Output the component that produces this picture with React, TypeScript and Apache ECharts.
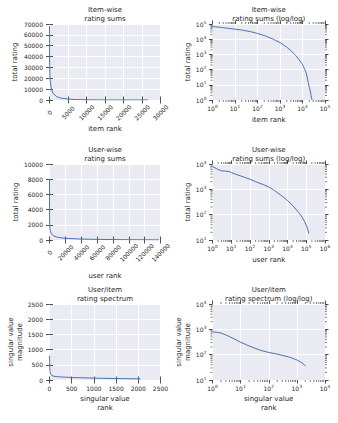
import React, { useEffect, useRef } from 'react';
import * as echarts from 'echarts';

// ---- data ----
const itemRank = [1, 2, 3, 5, 10, 20, 50, 100, 200, 500, 1000, 2000, 3000, 5000, 7000, 10000, 12000, 14000, 16000, 18000, 20000, 22000, 24000, 26700];
const itemSum = [68000, 61000, 57000, 52000, 46000, 40000, 31000, 24000, 17500, 10000, 6000, 3000, 1800, 850, 450, 215, 120, 70, 35, 14, 7, 4, 2, 1];

const userRank = [1, 2, 3, 5, 8, 10, 20, 50, 100, 200, 500, 1000, 2000, 5000, 10000, 20000, 40000, 60000, 80000, 100000, 120000, 138000];
const userSum = [8000, 6000, 5400, 5200, 5000, 4600, 3800, 3000, 2500, 2000, 1550, 1230, 900, 550, 360, 220, 120, 80, 55, 38, 26, 18];

const svRank = [1, 2, 3, 5, 10, 20, 50, 100, 200, 500, 1000, 1500, 2048];
const svValue = [800, 720, 600, 460, 310, 220, 150, 122, 105, 82, 62, 48, 36];

// ---- tick labels ----
const itemLinX = [0, 5000, 10000, 15000, 20000, 25000, 30000];
const itemLinY = [0, 10000, 20000, 30000, 40000, 50000, 60000, 70000];
const itemLogX = [1, 10, 100, 1000, 10000, 100000];
const itemLogY = [1, 10, 100, 1000, 10000, 100000];

const userLinX = [0, 20000, 40000, 60000, 80000, 100000, 120000, 140000];
const userLinY = [0, 2000, 4000, 6000, 8000, 10000];
const userLogX = [1, 10, 100, 1000, 10000, 100000, 1000000];
const userLogY = [10, 100, 1000, 10000];

const svLinX = [0, 500, 1000, 1500, 2000, 2500];
const svLinY = [0, 500, 1000, 1500, 2000, 2500];
const svLogX = [1, 10, 100, 1000, 10000];
const svLogY = [10, 100, 1000, 10000];

const minorMult = [2, 3, 4, 5, 6, 7, 8, 9];

const titles = [
  'Item-wise\nrating sums',
  'Item-wise\nrating sums (log/log)',
  'User-wise\nrating sums',
  'User-wise\nrating sums (log/log)',
  'User/item\nrating spectrum',
  'User/item\nrating spectrum (log/log)',
];

const BG = '#EAEAF2';
const LINE = '#4C72B0';
const TEXT = '#262626';
const FONT = 'DejaVu Sans';

const COLS = [
  { left: 49.5, width: 111 },
  { left: 212.5, width: 112.5 },
];
const ROW_TOPS = [24, 164, 304];
const H = 76;

const powLabel = (v: number) => '{b|10}{s|' + String(Math.round(Math.log10(v))) + '}';

const supRich = {
  b: { fontSize: 6, fontFamily: FONT, color: TEXT, lineHeight: 6, verticalAlign: 'bottom' },
  s: { fontSize: 4.3, fontFamily: FONT, color: TEXT, lineHeight: 5, padding: [0, 0, 3, 0.3], verticalAlign: 'bottom' },
};

function minorValues(decades: number[]) {
  const out: number[] = [];
  for (let i = 0; i < decades.length - 1; i++) {
    for (const m of minorMult) out.push(decades[i] * m);
  }
  return out;
}

type PanelCfg = {
  log: boolean;
  xTicks: number[];
  yTicks: number[];
  xs: number[];
  ys: number[];
  xName: string;
  yName: string;
  xNameGap: number;
  yNameGap: number;
  rotate: boolean;
};

const panels: PanelCfg[] = [
  { log: false, xTicks: itemLinX, yTicks: itemLinY, xs: itemRank, ys: itemSum, xName: 'item rank', yName: 'total rating', xNameGap: 23, yNameGap: 30, rotate: true },
  { log: true, xTicks: itemLogX, yTicks: itemLogY, xs: itemRank, ys: itemSum, xName: 'item rank', yName: 'total rating', xNameGap: 16, yNameGap: 19, rotate: false },
  { log: false, xTicks: userLinX, yTicks: userLinY, xs: userRank, ys: userSum, xName: 'user rank', yName: 'total rating', xNameGap: 32, yNameGap: 26.5, rotate: true },
  { log: true, xTicks: userLogX, yTicks: userLogY, xs: userRank, ys: userSum, xName: 'user rank', yName: 'total rating', xNameGap: 16, yNameGap: 18.5, rotate: false },
  { log: false, xTicks: svLinX, yTicks: svLinY, xs: svRank, ys: svValue, xName: 'singular value\nrank', yName: 'singular value\nmagnitude', xNameGap: 15, yNameGap: 25, rotate: false },
  { log: true, xTicks: svLogX, yTicks: svLogY, xs: svRank, ys: svValue, xName: 'singular value\nrank', yName: 'singular value\nmagnitude', xNameGap: 15, yNameGap: 18.5, rotate: false },
];

function buildOption() {
  const grid: any[] = [];
  const xAxis: any[] = [];
  const yAxis: any[] = [];
  const series: any[] = [];
  const graphic: any[] = [];

  const tickStyle = { show: true, length: 3.5, lineStyle: { color: TEXT, width: 0.8 } };
  const labelBase = { color: TEXT, fontSize: 6, fontFamily: FONT };
  const nameStyle = { color: TEXT, fontSize: 7, fontFamily: FONT, lineHeight: 8.5 };

  panels.forEach((p, g) => {
    const col = COLS[g % 2];
    const top = ROW_TOPS[Math.floor(g / 2)];
    grid.push({ left: col.left, top, width: col.width, height: H, show: true, backgroundColor: BG, borderWidth: 0, containLabel: false });

    const mkBase = (ticks: number[]) => {
      const b: any = {
        gridIndex: g,
        type: p.log ? 'log' : 'value',
        min: ticks[0],
        max: ticks[ticks.length - 1],
        axisLine: { show: false },
      };
      if (p.log) b.logBase = 10;
      else b.interval = ticks[1] - ticks[0];
      return b;
    };

    const xLabel = p.log
      ? { ...labelBase, formatter: powLabel, rich: supRich, margin: 5, showMinLabel: true, showMaxLabel: true, hideOverlap: false }
      : p.rotate
      ? { ...labelBase, formatter: (v: number) => String(v), rotate: 45, align: 'center', verticalAlign: 'middle', margin: 12.5, showMinLabel: true, showMaxLabel: true, hideOverlap: false }
      : { ...labelBase, formatter: (v: number) => String(v), margin: 5, showMinLabel: true, showMaxLabel: true, hideOverlap: false };
    const yLabel = p.log
      ? { ...labelBase, formatter: powLabel, rich: supRich, margin: 6, showMinLabel: true, showMaxLabel: true, hideOverlap: false }
      : { ...labelBase, formatter: (v: number) => String(v), margin: 6.5, showMinLabel: true, showMaxLabel: true, hideOverlap: false };

    xAxis.push({
      ...mkBase(p.xTicks),
      position: 'bottom',
      axisTick: tickStyle,
      axisLabel: xLabel,
      splitLine: { show: true, lineStyle: { color: '#ffffff', width: 1 } },
      name: p.xName,
      nameLocation: 'middle',
      nameGap: p.xNameGap,
      nameTextStyle: nameStyle,
    });
    xAxis.push({
      ...mkBase(p.xTicks),
      position: 'top',
      axisTick: tickStyle,
      axisLabel: { show: false },
      splitLine: { show: false },
    });
    yAxis.push({
      ...mkBase(p.yTicks),
      position: 'left',
      axisTick: tickStyle,
      axisLabel: yLabel,
      splitLine: { show: true, lineStyle: { color: '#ffffff', width: 1 } },
      name: p.yName,
      nameLocation: 'middle',
      nameGap: p.yNameGap,
      nameTextStyle: nameStyle,
    });
    yAxis.push({
      ...mkBase(p.yTicks),
      position: 'right',
      axisTick: tickStyle,
      axisLabel: { show: false },
      splitLine: { show: false },
    });

    series.push({
      type: 'line',
      xAxisIndex: 2 * g,
      yAxisIndex: 2 * g,
      data: p.xs.map((x, i) => [x, p.ys[i]]),
      showSymbol: false,
      symbol: 'none',
      lineStyle: { color: LINE, width: 1 },
      itemStyle: { color: LINE },
      silent: true,
    });

    if (p.log) {
      const xMin = p.xTicks[0];
      const yMin = p.yTicks[0];
      const xm = minorValues(p.xTicks);
      const ym = minorValues(p.yTicks);
      const ms = { stroke: TEXT, lineWidth: 0.6 };
      series.push({
        type: 'custom',
        xAxisIndex: 2 * g,
        yAxisIndex: 2 * g,
        silent: true,
        clip: false,
        data: xm.map((v) => [v, yMin]),
        renderItem: (params: any, api: any) => {
          const cs = params.coordSys;
          const x = api.coord([api.value(0), api.value(1)])[0];
          const b = cs.y + cs.height;
          return {
            type: 'group',
            children: [
              { type: 'line', shape: { x1: x, y1: b, x2: x, y2: b + 2 }, style: ms },
              { type: 'line', shape: { x1: x, y1: cs.y, x2: x, y2: cs.y - 2 }, style: ms },
            ],
          };
        },
      });
      series.push({
        type: 'custom',
        xAxisIndex: 2 * g,
        yAxisIndex: 2 * g,
        silent: true,
        clip: false,
        data: ym.map((v) => [xMin, v]),
        renderItem: (params: any, api: any) => {
          const cs = params.coordSys;
          const y = api.coord([api.value(0), api.value(1)])[1];
          const r = cs.x + cs.width;
          return {
            type: 'group',
            children: [
              { type: 'line', shape: { x1: cs.x, y1: y, x2: cs.x - 2, y2: y }, style: ms },
              { type: 'line', shape: { x1: r, y1: y, x2: r + 2, y2: y }, style: ms },
            ],
          };
        },
      });
    }

    graphic.push({
      type: 'text',
      x: col.left + col.width / 2,
      y: top - 18.5,
      silent: true,
      style: {
        text: titles[g],
        textAlign: 'center',
        align: 'center',
        textVerticalAlign: 'top',
        verticalAlign: 'top',
        fontSize: 7,
        fontFamily: FONT,
        fill: TEXT,
        lineHeight: 9,
      },
    });
  });

  return {
    animation: false,
    backgroundColor: '#ffffff',
    textStyle: { fontFamily: FONT },
    grid,
    xAxis,
    yAxis,
    series,
    graphic,
  };
}

export default function App() {
  const ref = useRef<HTMLDivElement>(null);
  useEffect(() => {
    if (!ref.current) return;
    const chart = echarts.init(ref.current, undefined, { renderer: 'svg' });
    chart.setOption(buildOption() as any);
    return () => chart.dispose();
  }, []);
  return (
    <div
      ref={ref}
      style={{ position: 'fixed', left: 0, top: 0, width: 338, height: 423, background: '#fff' }}
    />
  );
}
